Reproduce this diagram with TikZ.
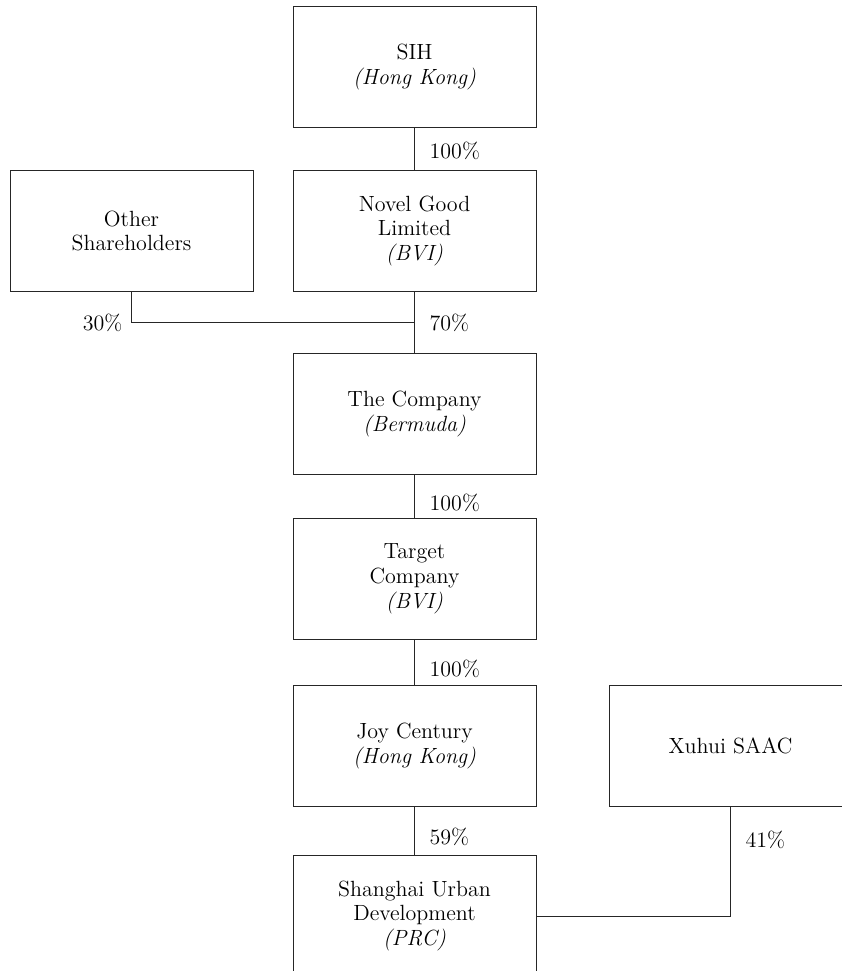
\documentclass[tikz,border=0pt]{standalone}
\usepackage{tikz}
\usetikzlibrary{positioning,calc}

\begin{document}
\begin{tikzpicture}[
    x=0.5pt, y=-0.5pt,
    font=\fontsize{11}{12.4}\selectfont,
    box/.style={draw=black!85, line width=0.5pt, minimum width=121.5pt, minimum height=60.5pt, align=center, inner sep=2pt},
    link/.style={draw=black!85, line width=0.5pt},
    pct/.style={right, xshift=4pt},
    pctl/.style={left, xshift=-1pt},
]
\useasboundingbox (0,0) rectangle (842,971);
\clip (0,0) rectangle (842,971);

\node[box] (sih) at (414.5,67) {SIH\\\textit{(Hong Kong)}};
\node[box] (novel)    [below=21pt of sih] {Novel Good\\Limited\\\textit{(BVI)}};
\node[box] (other)    [left=19.5pt of novel] {Other\\Shareholders};
\node[box] (company)  [below=30.5pt of novel] {The Company\\\textit{(Bermuda)}};
\node[box] (target)   [below=21.5pt of company] {Target\\Company\\\textit{(BVI)}};
\node[box] (joy)      [below=22.5pt of target] {Joy Century\\\textit{(Hong Kong)}};
\node[box] (xuhui)    [right=36pt of joy] {Xuhui SAAC};
\node[box] (shanghai) [below=24pt of joy] {Shanghai Urban\\Development\\\textit{(PRC)}};

% holding chain
\draw[link] (sih) -- node[pct, yshift=-1pt]{100\%} (novel);
\coordinate (jn) at ($(novel.south)!0.5!(company.north)$);
\draw[link] (novel) -- (company);
\node[pct] at (jn) {70\%};
\draw[link] (other.south) |- (jn);
\node[pctl] at (other.south |- jn) {30\%};
\draw[link] (company) -- node[pct, yshift=-3pt]{100\%} (target);
\draw[link] (target) -- node[pct, yshift=-3pt]{100\%} (joy);
\draw[link] (joy) -- node[pct, yshift=-3pt]{59\%} (shanghai);
% minority holder
\draw[link] (xuhui.south) |- node[pct, pos=0.15]{41\%} (shanghai.east);
\end{tikzpicture}
\end{document}
